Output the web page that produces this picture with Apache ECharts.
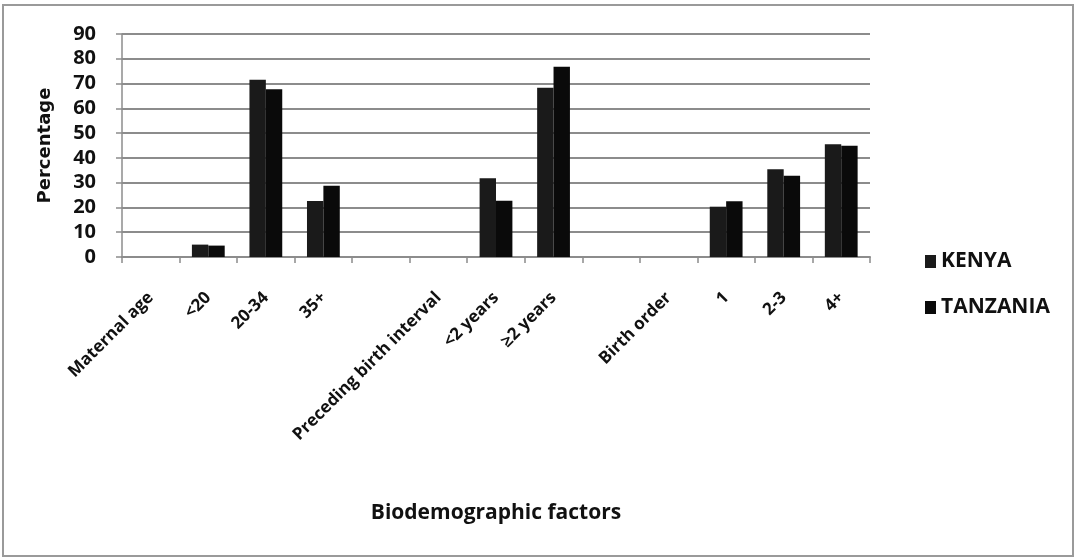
<!DOCTYPE html>
<html>
<head>
<meta charset="utf-8">
<script src="https://cdn.jsdelivr.net/npm/echarts@6/dist/echarts.min.js"></script>
<style>
html,body{margin:0;padding:0;background:#fff;}
#c{width:1077px;height:559px;}
</style>
</head>
<body>
<div id="c"></div>
<script>
var categories = ['Maternal age', '<20', '20-34', '35+', '', 'Preceding birth interval', '<2 years', '\u22652 years', '', 'Birth order', '1', '2-3', '4+'];
var kenya =    [null, 5.0, 71.5, 22.6, null, null, 31.8, 68.3, null, null, 20.3, 35.4, 45.5];
var tanzania = [null, 4.6, 67.7, 28.8, null, null, 22.7, 76.8, null, null, 22.5, 32.8, 44.9];
var yTicks = [0, 10, 20, 30, 40, 50, 60, 70, 80, 90];

var chart = echarts.init(document.getElementById('c'));
chart.setOption({
  animation: false,
  backgroundColor: '#ffffff',
  graphic: [{
    type: 'rect', shape: {x: 3, y: 5, width: 1070, height: 551},
    style: {fill: 'none', stroke: '#9a9a9a', lineWidth: 2}, silent: true
  }],
  grid: {left: 122, right: 207, top: 34, bottom: 302, containLabel: false},
  legend: {
    orient: 'vertical', left: 920, top: 246, itemWidth: 11, itemHeight: 13, itemGap: 25,
    icon: 'rect',
    textStyle: {fontFamily: 'Open Sans', fontWeight: 'bold', fontSize: 21, color: '#111'},
    data: ['KENYA', 'TANZANIA']
  },
  xAxis: {
    type: 'category', data: categories,
    name: 'Biodemographic factors', nameLocation: 'middle', nameGap: 246,
    nameTextStyle: {fontFamily: 'Open Sans', fontWeight: 'bold', fontSize: 21, color: '#111'},
    axisLine: {lineStyle: {color: '#8c8c8c', width: 2}},
    axisTick: {show: true, length: 6, lineStyle: {color: '#8c8c8c', width: 1.5}},
    axisLabel: {interval: 0, rotate: 45, margin: 38, fontFamily: 'Open Sans', fontWeight: 'bold', fontSize: 17, color: '#111'}
  },
  yAxis: {
    type: 'value', min: 0, max: 90, interval: 10,
    name: 'Percentage', nameLocation: 'middle', nameGap: 68,
    nameTextStyle: {fontFamily: 'DejaVu Sans', fontWeight: 'bold', fontSize: 18, color: '#111'},
    axisLine: {show: true, lineStyle: {color: '#8c8c8c', width: 1.5}},
    axisTick: {show: true, length: 6, lineStyle: {color: '#8c8c8c', width: 1.5}},
    axisLabel: {margin: 26, fontFamily: 'Open Sans', fontWeight: 'bold', fontSize: 20, color: '#111',
      formatter: function (v) { return yTicks.indexOf(v) >= 0 ? String(v) : ''; }},
    splitLine: {show: true, lineStyle: {color: '#8c8c8c', width: 2}}
  },
  series: [
    {name: 'KENYA', type: 'bar', data: kenya, barGap: '0%', barCategoryGap: '43%', itemStyle: {color: '#1a1a1a'}},
    {name: 'TANZANIA', type: 'bar', data: tanzania, barGap: '0%', barCategoryGap: '43%', itemStyle: {color: '#0a0a0a'}}
  ]
});
</script>
</body>
</html>
